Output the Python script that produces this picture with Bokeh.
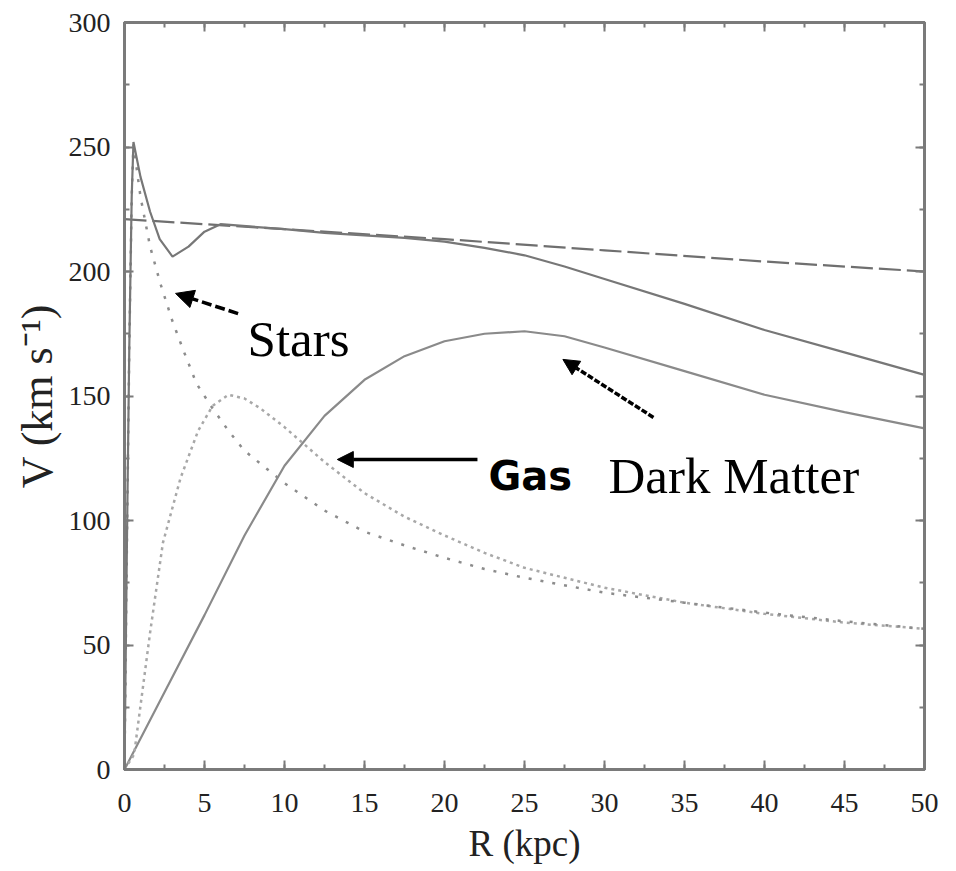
from bokeh.plotting import figure
from bokeh.models import (Range1d, LinearAxis, SingleIntervalTicker, Label, Arrow,
                          NormalHead, CustomLabelingPolicy)
from bokeh.embed import file_html
from bokeh.resources import INLINE

# ---- data ----
R_total = [0, 0.15, 0.3, 0.45, 0.56, 1.0, 1.6, 2.2, 3.0, 4.0, 5.0, 6.0, 8.0, 10, 12.5, 15,
           17.5, 20, 22.5, 25, 27.5, 30, 35, 40, 45, 50]
V_total = [0, 90, 170, 230, 252, 238, 224, 213, 206, 210, 216, 219, 218, 217, 215.5, 214.5,
           213.5, 212, 209.5, 206.5, 202, 197, 187, 176.5, 167.5, 158.5]

R_halo = [0, 10, 20, 30, 40, 50]
V_halo = [221, 217, 213, 208.5, 204, 200]

R_stars = [0, 0.15, 0.3, 0.45, 0.56, 1.0, 1.6, 2.25, 3.0, 3.7, 4.5, 5.4, 6.5, 7.5, 10, 12.5,
           15, 17.5, 20, 22.5, 25, 30, 35, 40, 45, 50]
V_stars = [0, 90, 170, 230, 251, 230, 210, 195, 180, 168, 155, 146, 136, 128, 115, 104,
           95.5, 90, 85, 80.5, 77, 71, 67, 63, 59.5, 56.5]

R_gas = [0, 0.6, 1.6, 2.4, 3.5, 4.6, 5.5, 6.5, 7.5, 8.5, 10, 12.5, 15, 17.5, 20, 22.5, 25,
         30, 35, 40, 45, 50]
V_gas = [0, 6, 55, 91, 117, 136, 146, 150.5, 149, 145, 137.5, 123.5, 111, 101.5, 94, 87, 81,
         73, 67, 62.5, 59, 56.5]

R_dm = [0, 2.5, 5, 7.5, 10, 12.5, 15, 17.5, 20, 22.5, 25, 27.5, 30, 35, 40, 45, 50]
V_dm = [0, 31, 62, 94, 122, 142, 156.5, 166, 172, 175, 176, 174, 169.5, 160, 150.5, 143.5, 137]

GREY = "#7a7a7a"
SERIF = "Liberation Serif"

p = figure(width=952, height=871, output_backend="svg", toolbar_location=None,
           x_range=Range1d(0, 50), y_range=Range1d(0, 300),
           min_border_left=124, min_border_right=28, min_border_top=22,
           min_border_bottom=102, x_axis_label="R (kpc)", y_axis_label="V (km s\u207b\u00b9)")
p.xgrid.visible = False
p.ygrid.visible = False
p.outline_line_color = GREY
p.outline_line_width = 3
p.background_fill_color = "white"
p.border_fill_color = "white"

p.xaxis.ticker = SingleIntervalTicker(interval=5, num_minor_ticks=2)
p.yaxis.ticker = SingleIntervalTicker(interval=50, num_minor_ticks=2)

no_labels = CustomLabelingPolicy(code="""
const all = [...indices];
for (const i of all) indices.unset(i);
return indices;
""")


def style_axis(ax, labels=True):
    ax.axis_line_color = GREY
    ax.axis_line_width = 3
    ax.major_tick_in = 9
    ax.major_tick_out = 0
    ax.minor_tick_in = 5
    ax.minor_tick_out = 0
    ax.major_tick_line_color = GREY
    ax.major_tick_line_width = 2
    ax.minor_tick_line_color = GREY
    ax.minor_tick_line_width = 2
    if labels:
        ax.major_label_text_font = SERIF
        ax.major_label_text_font_size = "28px"
        ax.major_label_text_color = "#222222"
        ax.axis_label_text_font = SERIF
        ax.axis_label_text_font_style = "normal"
        ax.axis_label_text_color = "#222222"
    else:
        ax.major_label_policy = no_labels
        ax.major_label_standoff = 0


for ax in p.xaxis:
    style_axis(ax)
    ax.major_label_standoff = 24
    ax.axis_label_standoff = 8
    ax.axis_label_text_font_size = "37px"
for ax in p.yaxis:
    style_axis(ax)
    ax.major_label_standoff = 14
    ax.axis_label_standoff = 4
    ax.axis_label_text_font_size = "44px"

top = LinearAxis(ticker=SingleIntervalTicker(interval=5, num_minor_ticks=2))
style_axis(top, labels=False)
p.add_layout(top, "above")
right = LinearAxis(ticker=SingleIntervalTicker(interval=50, num_minor_ticks=2))
style_axis(right, labels=False)
p.add_layout(right, "right")

# ---- curves ----
p.line(R_dm, V_dm, line_color="#8a8a8a", line_width=2.2)
p.line(R_gas, V_gas, line_color="#a8a8a8", line_width=2.5, line_dash="3 4")
p.line(R_stars, V_stars, line_color="#8c8c8c", line_width=2.5, line_dash="3 9")
p.line(R_halo, V_halo, line_color="#6f6f6f", line_width=2.2, line_dash="22 6")
p.line(R_total, V_total, line_color="#777777", line_width=2.2)

# ---- annotations ----
p.add_layout(Arrow(end=NormalHead(size=18, fill_color="black", line_color="black"),
                   x_start=7.1, y_start=183.1, x_end=3.19, y_end=191.2,
                   line_color="black", line_width=3.5, line_dash="10 4"))
p.add_layout(Label(x=7.69, y=172.7, text="Stars", text_font=SERIF, text_font_size="51px",
                   text_baseline="alphabetic", text_color="black"))

p.add_layout(Arrow(end=NormalHead(size=16, fill_color="black", line_color="black"),
                   x_start=22.06, y_start=124.5, x_end=13.3, y_end=124.5,
                   line_color="black", line_width=3.5))
p.add_layout(Label(x=22.75, y=117.7, text="Gas", text_font="DejaVu Sans",
                   text_font_size="40px", text_baseline="alphabetic", text_color="black",
                   text_font_style="bold"))

p.add_layout(Arrow(end=NormalHead(size=16, fill_color="black", line_color="black"),
                   x_start=33.06, y_start=141.4, x_end=27.4, y_end=164.7,
                   line_color="black", line_width=3.5, line_dash="6 2"))
p.add_layout(Label(x=30.25, y=117.7, text="Dark Matter", text_font=SERIF,
                   text_font_size="51px", text_baseline="alphabetic", text_color="black"))

open("out.html", "w").write(file_html(p, INLINE))
